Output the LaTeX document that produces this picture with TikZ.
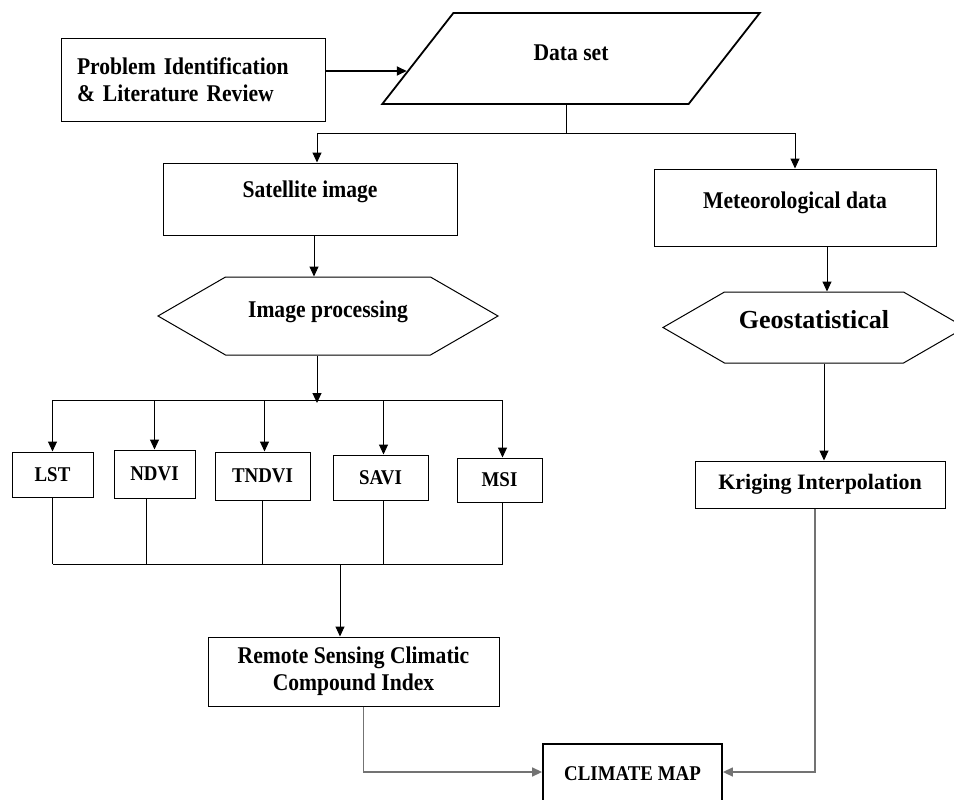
\documentclass[tikz,border=0pt]{standalone}
\usepackage{fontspec}
\setmainfont{Liberation Serif}
\newfontfamily\camb{Liberation Serif}[FakeStretch=0.9]
\usetikzlibrary{arrows.meta,shapes.geometric,shapes.symbols,calc}
\definecolor{conngray}{RGB}{115,115,115}
\begin{document}
\begin{tikzpicture}[x=1pt,y=-1pt,
  base/.style={draw, line width=1pt, inner sep=0pt},
  box/.style={base, rectangle, font=\camb\bfseries\fontsize{24}{27}\selectfont},
  smallbox/.style={base, rectangle, font=\camb\bfseries\fontsize{21}{25}\selectfont},
  tnrbox/.style={base, font=\bfseries\fontsize{22}{26}\selectfont},
  hexa/.style={base, signal, signal to=west and east, signal from=nowhere, signal pointer angle=60},
  arr/.style={line width=1pt, -{Triangle[length=10pt,width=9pt]}},
  thickarr/.style={line width=1.8pt, -{Triangle[length=10pt,width=9pt]}},
  grayarr/.style={line width=1.4pt, draw=conngray, -{Triangle[length=10pt,width=9pt]}},
  ln/.style={line width=1pt}]
\useasboundingbox (0,0) rectangle (954,800);
\clip (0,0) rectangle (954,800);

% nodes
\node[box, minimum width=264pt, minimum height=82pt, text width=232pt, align=left] (prob) at (193,80) {Problem Identification\\\& Literature Review};
\node[trapezium, trapezium left angle=50, trapezium right angle=130, trapezium stretches=true,
      draw, line width=1.8pt, inner sep=0pt, minimum width=378pt, minimum height=91pt,
      font=\camb\bfseries\fontsize{24}{27}\selectfont, text height=16pt, text depth=11pt] (ds) at (571,58.5) {Data set};
\node[box, minimum width=294pt, minimum height=72pt, text height=16pt, text depth=20pt] (sat) at (310,199) {Satellite image};
\node[box, minimum width=282pt, minimum height=77pt, text height=16pt, text depth=15pt] (met) at (795,207.5) {Meteorological data};
\node[hexa, minimum width=340pt, minimum height=78pt, font=\camb\bfseries\fontsize{24}{27}\selectfont, text height=16pt, text depth=14pt] (ip) at (328,316) {Image processing};
\node[hexa, minimum width=302pt, minimum height=71pt, font=\bfseries\fontsize{26}{30}\selectfont, text height=17pt, text depth=15pt] (geo) at (814,327.5) {Geostatistical};

\node[smallbox, minimum width=81pt, minimum height=45pt] (lst) at (52.5,474.5) {LST};
\node[smallbox, minimum width=81pt, minimum height=48pt] (ndvi) at (154.5,474) {NDVI};
\node[smallbox, minimum width=95pt, minimum height=48pt] (tndvi) at (262.5,476) {TNDVI};
\node[smallbox, minimum width=95pt, minimum height=45pt] (savi) at (380.5,477.5) {SAVI};
\node[smallbox, minimum width=85pt, minimum height=44pt] (msi) at (499.5,480) {MSI};

\node[tnrbox, rectangle, minimum width=250pt, minimum height=47pt] (kr) at (820,484.5) {Kriging Interpolation};
\node[box, minimum width=291pt, minimum height=69pt, align=center] (rs) at (353.5,671.5) {Remote Sensing Climatic\\Compound Index};
\node[smallbox, line width=1.8pt, minimum width=179pt, minimum height=66pt, text height=15pt, text depth=8pt] (cm) at (632.5,777) {CLIMATE MAP};

% connectors
\coordinate (dsin) at ($(ds.bottom left corner)!0.363!(ds.top left corner)$);
\draw[thickarr] ([yshift=9pt]prob.east) -- ([yshift=9pt]prob.east -| dsin);
\draw[ln] ([xshift=-5pt]ds.south) -- ++(0,29) coordinate (split);
\draw[arr] (split) -| ([xshift=7pt]sat.north);
\draw[arr] (split) -| (met.north);
\draw[arr] ([xshift=4pt]sat.south) -- ([xshift=4pt]sat.south |- ip.north);
\draw[arr] ([xshift=32pt]met.south) -- ([xshift=32pt]met.south |- geo.north);
\draw[arr] ([xshift=10pt]geo.south) -- ([xshift=10pt]geo.south |- kr.north);

\coordinate (busA) at (317,400);
\draw[arr] (ip.south -| busA) -- ([yshift=-3pt]busA);
\draw[ln] (lst.north |- busA) -- ([xshift=3pt]msi.north |- busA);
\draw[arr] (lst.north |- busA) -- (lst.north);
\draw[arr] (ndvi.north |- busA) -- (ndvi.north);
\draw[arr] ([xshift=2pt]tndvi.north |- busA) -- ([xshift=2pt]tndvi.north);
\draw[arr] ([xshift=3pt]savi.north |- busA) -- ([xshift=3pt]savi.north);
\draw[arr] ([xshift=3pt]msi.north |- busA) -- ([xshift=3pt]msi.north);

\coordinate (busB) at (340,564);
\draw[ln] (lst.south |- busB) -- ([xshift=3pt]msi.south |- busB);
\draw[ln] (lst.south) -- (lst.south |- busB);
\draw[ln] ([xshift=-8pt]ndvi.south) -- ([xshift=-8pt]ndvi.south |- busB);
\draw[ln] (tndvi.south) -- (tndvi.south |- busB);
\draw[ln] ([xshift=3pt]savi.south) -- ([xshift=3pt]savi.south |- busB);
\draw[ln] ([xshift=3pt]msi.south) -- ([xshift=3pt]msi.south |- busB);
\draw[arr] (busB) -- (busB |- rs.north);

\draw[grayarr] ([xshift=10pt]rs.south) |- ([yshift=5pt]cm.west);
\draw[grayarr] ([xshift=-5pt]kr.south) |- ([yshift=5pt]cm.east);
\end{tikzpicture}
\end{document}
